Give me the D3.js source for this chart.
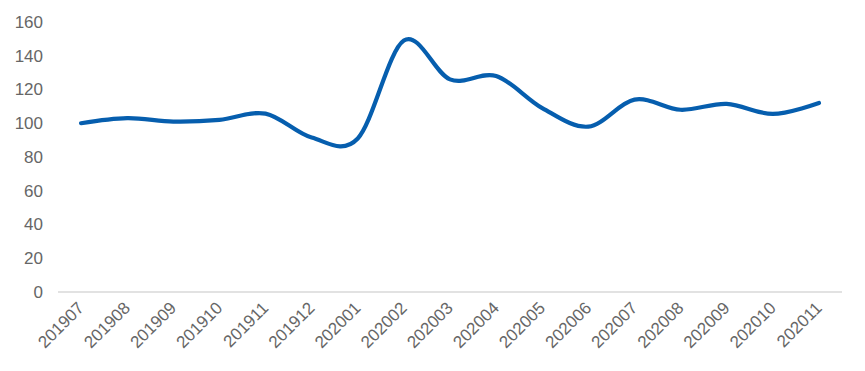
<!DOCTYPE html>
<html><head><meta charset="utf-8">
<script src="https://cdn.jsdelivr.net/npm/d3@7"></script>
<style>body{margin:0;background:#fff}svg{display:block}</style>
</head><body><svg id="c" width="865" height="371"></svg>
<script>
const categories = ["201907","201908","201909","201910","201911","201912","202001","202002","202003","202004","202005","202006","202007","202008","202009","202010","202011"];
const values = [100,103,101,102,105.7,91.5,91,149,126,128,109,98,114,108,111.5,105.5,112];
const yTicks = [0,20,40,60,80,100,120,140,160];

const svg = d3.select("#c");
const x = d3.scaleBand().domain(categories).range([58,842]);
const y = d3.scaleLinear().domain([0,160]).range([292,22]);
const font = "'Liberation Sans', Arial, sans-serif";

// y labels
svg.append("g").selectAll("text").data(yTicks).join("text")
  .attr("x",43).attr("y",d=>y(d)).attr("dy","0.35em")
  .attr("text-anchor","end").attr("font-family",font).attr("font-size",17)
  .attr("fill","#666666").text(d=>d);

// x axis line
svg.append("line").attr("x1",58).attr("x2",842).attr("y1",y(0)).attr("y2",y(0))
  .attr("stroke","#d9d9d9").attr("stroke-width",1.5);

// x labels
svg.append("g").selectAll("text").data(categories).join("text")
  .attr("transform",d=>`translate(${x(d)+x.bandwidth()/2+4},${309}) rotate(-45)`)
  .attr("text-anchor","end").attr("font-family",font).attr("font-size",17)
  .attr("fill","#666666").text(d=>d);

// line
const line = d3.line().x((d,i)=>x(categories[i])+x.bandwidth()/2).y(d=>y(d))
  .curve(d3.curveCardinal.tension(0));
svg.append("path").datum(values).attr("d",line).attr("fill","none")
  .attr("stroke","#065EAE").attr("stroke-width",4.2).attr("stroke-linecap","round");
</script></body></html>
